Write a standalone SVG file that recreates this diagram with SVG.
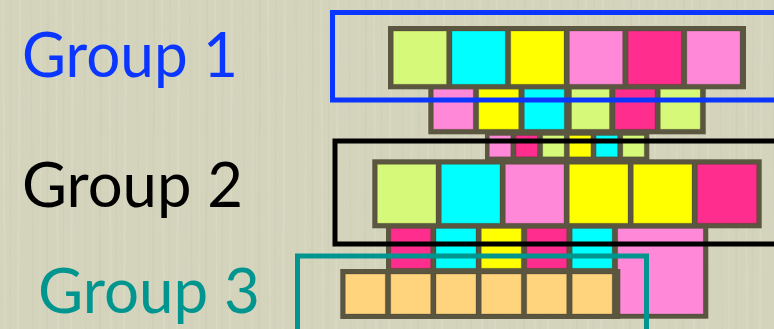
<svg xmlns="http://www.w3.org/2000/svg" width="774" height="329" viewBox="0 0 774 329">
<defs>
<style>
.box{fill:#5b5640}
.c{stroke:#3a3520;stroke-opacity:0.25;stroke-width:1}
.lime{fill:#d6f97a}
.cyan{fill:#00ffff}
.yel{fill:#ffff00}
.pink{fill:#ff88d8}
.hot{fill:#ff2d8d}
.org{fill:#ffd47c}
.grp{fill:none;stroke-width:5}
.lbl{font-family:Lato,"Open Sans","DejaVu Sans",sans-serif;font-size:62px;font-weight:400}
.sl{stroke:#e6e5d2;stroke-opacity:0.3}
.sd{stroke:#b9b8a0;stroke-opacity:0.2}
</style>
<pattern id="tex" width="53" height="329" patternUnits="userSpaceOnUse">
<rect width="53" height="329" fill="#d4d3bc"/>
<line class="sl" x1="3" y1="0" x2="5" y2="329" stroke-width="1.5"/>
<line class="sd" x1="11" y1="0" x2="10" y2="329" stroke-width="1"/>
<line class="sl" x1="20" y1="0" x2="18" y2="329" stroke-width="2"/>
<line class="sd" x1="31" y1="0" x2="33" y2="329" stroke-width="1"/>
<line class="sl" x1="41" y1="0" x2="40" y2="329" stroke-width="1"/>
<line class="sd" x1="48" y1="0" x2="47" y2="329" stroke-width="1.5"/>
</pattern>
</defs>
<rect width="774" height="329" fill="url(#tex)"/>
<g id="row2">
<rect class="box" x="428.3" y="84" width="277.4" height="50.3"/>
<rect class="c pink" x="433.3" y="89" width="40" height="40.3"/>
<rect class="c yel" x="478.7" y="89" width="40" height="40.3"/>
<rect class="c cyan" x="524.3" y="89" width="40" height="40.3"/>
<rect class="c lime" x="571.5" y="89" width="38" height="40.3"/>
<rect class="c hot" x="615" y="89" width="40" height="40.3"/>
<rect class="c lime" x="660.3" y="89" width="40" height="40.3"/>
</g>
<g id="row1">
<rect class="box" x="388" y="26" width="358" height="63.3"/>
<rect class="c lime" x="393.3" y="31" width="53.3" height="53.3"/>
<rect class="c cyan" x="452" y="31" width="53.3" height="53.3"/>
<rect class="c yel" x="510.7" y="31" width="53.3" height="53.3"/>
<rect class="c pink" x="569.4" y="31" width="53.3" height="53.3"/>
<rect class="c hot" x="628.1" y="31" width="53.3" height="53.3"/>
<rect class="c pink" x="686.8" y="31" width="53.3" height="53.3"/>
</g>
<g id="row3">
<rect class="box" x="485" y="130" width="164.3" height="30"/>
<rect class="c pink" x="489.3" y="135.5" width="21.5" height="21.3"/>
<rect class="c hot" x="516" y="135.5" width="21.5" height="21.3"/>
<rect class="c lime" x="542.7" y="135.5" width="21.5" height="21.3"/>
<rect class="c yel" x="569.4" y="135.5" width="21.5" height="21.3"/>
<rect class="c cyan" x="596.1" y="135.5" width="21.5" height="21.3"/>
<rect class="c lime" x="622.8" y="135.5" width="21.5" height="21.3"/>
</g>
<g id="row5">
<rect class="box" x="386" y="223" width="322.3" height="95.7"/>
<rect class="c hot" x="390.7" y="228.3" width="40" height="40"/>
<rect class="c cyan" x="436" y="228.3" width="40" height="40"/>
<rect class="c yel" x="481.3" y="228.3" width="40" height="40"/>
<rect class="c hot" x="526.7" y="228.3" width="40" height="40"/>
<rect class="c cyan" x="572.2" y="228.3" width="40" height="40"/>
<rect class="c pink" x="617.7" y="228.3" width="85.6" height="85.7"/>
</g>
<g id="row4">
<rect class="box" x="372.3" y="159.3" width="389.4" height="69"/>
<rect class="c lime" x="377.3" y="164.3" width="58.7" height="59"/>
<rect class="c cyan" x="441.3" y="164.3" width="58.7" height="59"/>
<rect class="c pink" x="505.3" y="164.3" width="58.7" height="59"/>
<rect class="c yel" x="569.3" y="164.3" width="58.7" height="59"/>
<rect class="c yel" x="633.3" y="164.3" width="58.7" height="59"/>
<rect class="c hot" x="697.3" y="164.3" width="59.4" height="59"/>
</g>
<g id="row6">
<rect class="box" x="340.3" y="269" width="280" height="50"/>
<rect class="c org" x="345.3" y="274" width="40" height="40"/>
<rect class="c org" x="390.7" y="274" width="40" height="40"/>
<rect class="c org" x="436" y="274" width="40" height="40"/>
<rect class="c org" x="481.3" y="274" width="40" height="40"/>
<rect class="c org" x="526.7" y="274" width="40" height="40"/>
<rect class="c org" x="572.2" y="274" width="40" height="40"/>
</g>
<g id="group1">
<rect class="grp" x="332.5" y="12.5" width="460" height="87.5" stroke="#0a36ff"/>
<text class="lbl" x="22" y="76.7" fill="#0a36ff" textLength="216" lengthAdjust="spacingAndGlyphs">Group 1</text>
</g>
<g id="group2">
<rect class="grp" x="335" y="141" width="460" height="103" stroke="#000"/>
<text class="lbl" x="22" y="206.7" fill="#000" textLength="221" lengthAdjust="spacingAndGlyphs">Group 2</text>
</g>
<g id="group3">
<rect class="grp" x="297.5" y="256" width="349" height="100" stroke="#00958f"/>
<text class="lbl" x="38" y="313.3" fill="#00958f" textLength="222" lengthAdjust="spacingAndGlyphs">Group 3</text>
</g>
<g id="connectors"/>
</svg>
